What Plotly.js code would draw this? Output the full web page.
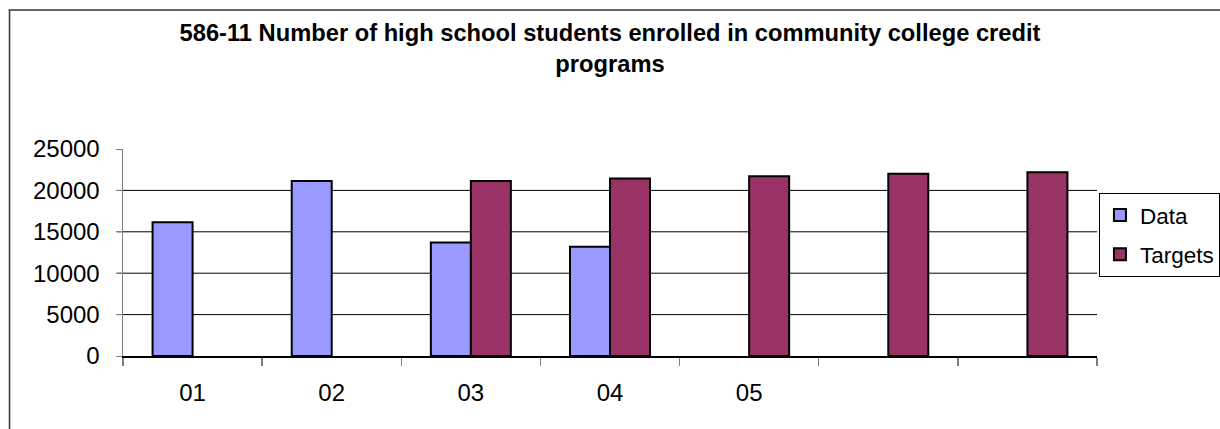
<!DOCTYPE html>
<html>
<head>
<meta charset="utf-8">
<script src="https://cdn.plot.ly/plotly-3.0.1.min.js"></script>
<style>
html,body{margin:0;padding:0;background:#fff;}
#chart{width:1220px;height:429px;}
</style>
</head>
<body>
<div id="chart"></div>
<script>
const categories = ['01','02','03','04','05','06','07'];
const tickLabels = ['01','02','03','04','05','',''];
const dataValues = [16150, 21150, 13700, 13200, null, null, null];
const targetValues = [null, null, 21150, 21450, 21700, 22000, 22200];
const gridValues = [5000, 10000, 15000, 20000];
const titleText = '586-11 Number of high school students enrolled in community college credit<br>programs';

const FONT = 'Arial, "Liberation Sans", sans-serif';

const traces = [
  {
    type: 'bar', name: 'Data', x: categories, y: dataValues,
    marker: {color: '#9999FF', line: {color: '#000000', width: 2}},
    legendgroup: 'a', hoverinfo: 'skip'
  },
  {
    type: 'bar', name: 'Targets', x: categories, y: targetValues,
    marker: {color: '#993366', line: {color: '#000000', width: 2}},
    legendgroup: 'b', hoverinfo: 'skip'
  }
];

const shapes = gridValues.map(v => ({
  type: 'line', xref: 'paper', yref: 'y', x0: -0.0065, x1: 1, y0: v, y1: v,
  line: {color: '#000000', width: 1}, layer: 'below'
}));
// outer chart-area border (left and top edges visible)
shapes.push({type: 'line', xref: 'paper', yref: 'paper', x0: -0.1165, x1: -0.1165, y0: 1.6715, y1: -0.5,
  line: {color: '#333333', width: 1.5}});
shapes.push({type: 'line', xref: 'paper', yref: 'paper', x0: -0.1175, x1: 1.2, y0: 1.6715, y1: 1.6715,
  line: {color: '#333333', width: 1.5}});

const layout = {
  width: 1220, height: 429,
  margin: {l: 123, r: 123, t: 149, b: 73, pad: 0, autoexpand: false},
  paper_bgcolor: '#ffffff', plot_bgcolor: 'rgba(0,0,0,0)',
  font: {family: FONT, size: 24, color: '#000000'},
  title: {
    text: '<b>' + titleText + '</b>',
    font: {family: FONT, size: 23.7, color: '#000000'},
    x: 0.5, xref: 'paper', xanchor: 'center',
    y: 1 - 41/429, yref: 'container', yanchor: 'top'
  },
  barmode: 'group', bargap: 0.425, bargroupgap: 0,
  xaxis: {
    type: 'category', tickvals: categories, ticktext: tickLabels,
    tickson: 'boundaries', ticks: 'outside', ticklen: 8, tickwidth: 1.5, tickcolor: '#808080',
    showline: true, linecolor: '#000000', linewidth: 1.5,
    showgrid: false, zeroline: false, ticklabelstandoff: 15,
    tickfont: {family: FONT, size: 24, color: '#000000'}, fixedrange: true, automargin: false
  },
  yaxis: {
    range: [0, 25000], tickvals: [0, 5000, 10000, 15000, 20000, 25000], tickformat: 'd',
    ticks: 'outside', ticklen: 6, tickwidth: 1, tickcolor: '#808080',
    showline: true, linecolor: '#808080', linewidth: 1.5,
    showgrid: false, zeroline: false, ticklabelstandoff: 11,
    tickfont: {family: FONT, size: 24, color: '#000000'}, fixedrange: true, automargin: false
  },
  legend: {
    x: 1.002, xanchor: 'left', y: 0.788, yanchor: 'top',
    bgcolor: '#ffffff', bordercolor: '#000000', borderwidth: 1,
    font: {family: FONT, size: 22.5, color: '#000000'},
    tracegroupgap: 7, traceorder: 'grouped', itemwidth: 30
  },
  shapes: shapes,
  showlegend: true
};

Plotly.newPlot('chart', traces, layout, {staticPlot: true, displayModeBar: false});
</script>
</body>
</html>
